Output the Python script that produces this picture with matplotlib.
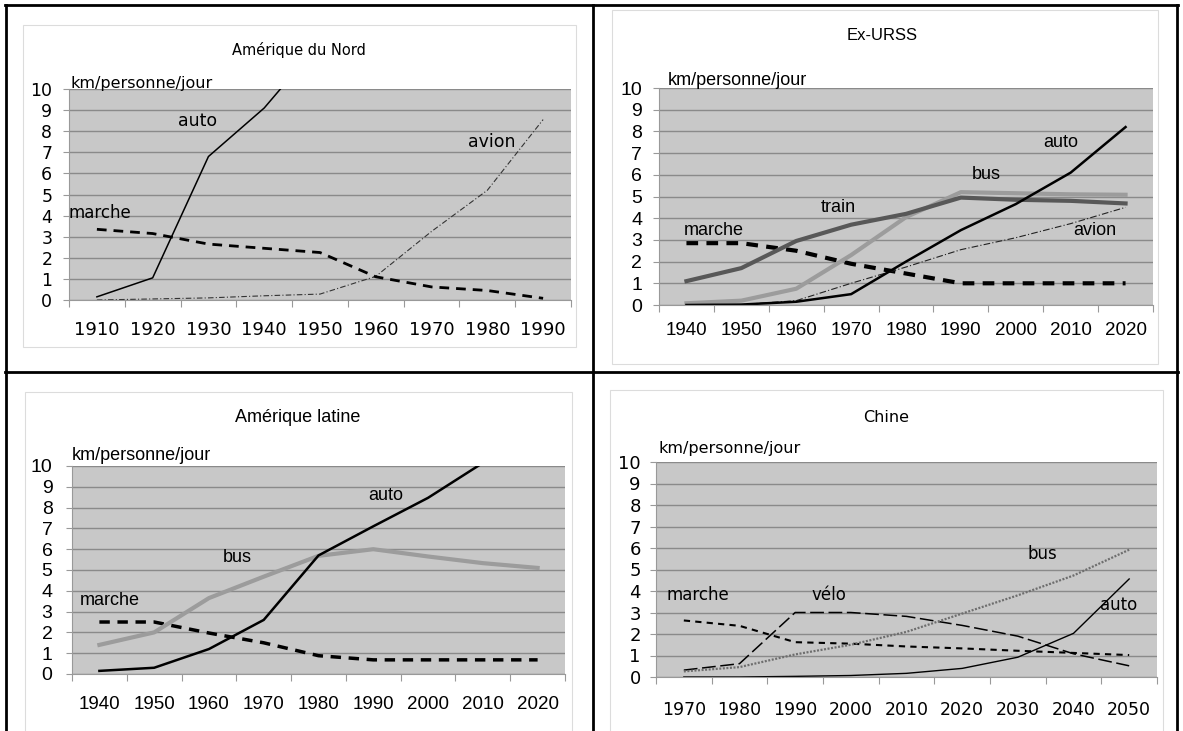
import numpy as np
import matplotlib
matplotlib.use("Agg")
import matplotlib.pyplot as plt
from matplotlib.patches import Rectangle
from matplotlib.lines import Line2D

W, H = 1183, 731

# ---- données (km/personne/jour) ----
annees_nord = ["1910", "1920", "1930", "1940", "1950", "1960", "1970", "1980", "1990"]
nord_auto = [0.15, 1.05, 6.8, 9.1, 12.2, np.nan, np.nan, np.nan, np.nan]
nord_marche = [3.35, 3.15, 2.65, 2.45, 2.25, 1.1, 0.62, 0.45, 0.08]
nord_avion = [0.0, 0.05, 0.1, 0.2, 0.28, 1.12, 3.25, 5.2, 8.55]

annees_urss = ["1940", "1950", "1960", "1970", "1980", "1990", "2000", "2010", "2020"]
urss_train = [1.1, 1.7, 2.95, 3.7, 4.2, 4.95, 4.85, 4.8, 4.68]
urss_bus = [0.08, 0.2, 0.75, 2.3, 4.05, 5.2, 5.15, 5.1, 5.08]
urss_auto = [0.0, 0.02, 0.15, 0.5, 2.0, 3.45, 4.65, 6.1, 8.2]
urss_avion = [0.0, 0.02, 0.2, 1.0, 1.75, 2.55, 3.1, 3.75, 4.5]
urss_marche = [2.85, 2.85, 2.5, 1.9, 1.45, 1.0, 1.0, 1.0, 1.0]

annees_latine = ["1940", "1950", "1960", "1970", "1980", "1990", "2000", "2010", "2020"]
latine_bus = [1.4, 2.0, 3.65, 4.68, 5.68, 6.0, 5.65, 5.33, 5.1]
latine_auto = [0.15, 0.3, 1.2, 2.6, 5.7, 7.1, 8.47, 10.15, np.nan]
latine_marche = [2.5, 2.5, 1.97, 1.5, 0.88, 0.68, 0.68, 0.68, 0.68]

annees_chine = ["1970", "1980", "1990", "2000", "2010", "2020", "2030", "2040", "2050"]
chine_marche = [2.63, 2.38, 1.62, 1.55, 1.42, 1.33, 1.22, 1.12, 1.02]
chine_velo = [0.32, 0.62, 3.0, 3.0, 2.82, 2.4, 1.9, 1.08, 0.52]
chine_bus = [0.26, 0.46, 1.05, 1.5, 2.1, 2.95, 3.8, 4.72, 5.92]
chine_auto = [0.0, 0.0, 0.03, 0.07, 0.17, 0.4, 0.92, 2.03, 4.56]


def fx(x):
    return x / W


def fy(y):
    return 1 - y / H


def rect_axes(fig, gauche, haut, droite, bas):
    return fig.add_axes([fx(gauche), fy(bas), (droite - gauche) / W, (bas - haut) / H])


def panneau(ax, annees, police, taille_x, taille_y, pad_x, pad_y):
    n = len(annees)
    ax.set_facecolor("#c8c8c8")
    ax.set_xlim(-0.5, n - 0.5)
    ax.set_ylim(0, 10)
    ax.set_yticks(range(0, 11))
    ax.set_xticks(range(n))
    ax.set_xticklabels(annees, fontsize=taille_x, family=police)
    ax.set_yticklabels([str(v) for v in range(11)], fontsize=taille_y, family=police)
    ax.set_xticks(np.arange(-0.5, n, 1.0), minor=True)
    ax.tick_params(axis="x", which="major", length=0, pad=pad_x)
    ax.tick_params(axis="x", which="minor", length=5, color="#999999", width=0.8)
    ax.tick_params(axis="y", length=4, color="#999999", width=0.8, pad=pad_y)
    ax.grid(axis="y", color="#8a8a8a", linewidth=1.0)
    ax.set_axisbelow(True)
    for cote in ["top", "right"]:
        ax.spines[cote].set_visible(False)
    for cote in ["left", "bottom"]:
        ax.spines[cote].set_color("#999999")
        ax.spines[cote].set_linewidth(0.8)


fig = plt.figure(figsize=(W / 100, H / 100), dpi=100)

# cadres gris clair des graphiques
for (g, h, d, b) in [(23, 25, 576, 347), (612, 10, 1158, 364), (25, 392, 572, 760), (610, 390, 1163, 760)]:
    fig.patches.append(Rectangle((fx(g), fy(b)), (d - g) / W, (b - h) / H, transform=fig.transFigure,
                                 facecolor="white", edgecolor="#dcdcdc", linewidth=0.8, zorder=-5))

# ---- Amérique du Nord ----
ax1 = rect_axes(fig, 69, 89, 571, 300)
panneau(ax1, annees_nord, "DejaVu Sans", 13, 12.5, 15, 8)
x = np.arange(len(annees_nord))
ax1.plot(x, nord_avion, color="#333333", linewidth=0.8, dashes=(5, 2, 1, 2))
ax1.plot(x, nord_marche, color="black", linewidth=2.0, dashes=(3.5, 2.5))
ax1.plot(x, nord_auto, color="black", linewidth=1.1)
ax1.text(1.45, 8.5, "auto", fontsize=12.5, family="DejaVu Sans", va="center")
ax1.text(-0.5, 4.1, "marche", fontsize=12, family="DejaVu Sans", va="center")
ax1.text(6.65, 7.5, "avion", fontsize=12.5, family="DejaVu Sans", va="center")
fig.text(fx(70), fy(88), "km/personne/jour", fontsize=11.5, family="DejaVu Sans", va="baseline")
fig.text(fx(299), fy(50), "Amérique du Nord", fontsize=10.5, family="DejaVu Sans", ha="center", va="center")

# ---- Ex-URSS ----
ax2 = rect_axes(fig, 659, 88, 1153, 305)
panneau(ax2, annees_urss, "Liberation Sans", 13.5, 14, 12, 8)
x = np.arange(len(annees_urss))
ax2.plot(x, urss_marche, color="black", linewidth=3.0, dashes=(2.8, 2.0))
ax2.plot(x, urss_avion, color="#222222", linewidth=0.8, dashes=(6, 2, 1, 2))
ax2.plot(x, urss_bus, color="#9c9c9c", linewidth=3.0)
ax2.plot(x, urss_train, color="#585858", linewidth=3.0)
ax2.plot(x, urss_auto, color="black", linewidth=1.8)
ax2.text(2.44, 4.5, "train", fontsize=13, family="Liberation Sans", va="center")
ax2.text(-0.05, 3.45, "marche", fontsize=13, family="Liberation Sans", va="center")
ax2.text(5.2, 6.0, "bus", fontsize=13, family="Liberation Sans", va="center")
ax2.text(6.5, 7.5, "auto", fontsize=13, family="Liberation Sans", va="center")
ax2.text(7.05, 3.45, "avion", fontsize=13, family="Liberation Sans", va="center")
fig.text(fx(668), fy(85), "km/personne/jour", fontsize=13, family="Liberation Sans", va="baseline")
fig.text(fx(882), fy(35), "Ex-URSS", fontsize=12, family="Liberation Sans", ha="center", va="center")

# ---- Amérique latine ----
ax3 = rect_axes(fig, 72, 466, 565, 674)
panneau(ax3, annees_latine, "Liberation Sans", 13.5, 14, 16, 10)
x = np.arange(len(annees_latine))
ax3.plot(x, latine_marche, color="black", linewidth=2.5, dashes=(3, 2.2))
ax3.plot(x, latine_bus, color="#9c9c9c", linewidth=3.0)
ax3.plot(x, latine_auto, color="black", linewidth=1.8)
ax3.text(4.9, 8.6, "auto", fontsize=13, family="Liberation Sans", va="center")
ax3.text(2.26, 5.6, "bus", fontsize=13, family="Liberation Sans", va="center")
ax3.text(-0.35, 3.55, "marche", fontsize=13, family="Liberation Sans", va="center")
fig.text(fx(72), fy(460), "km/personne/jour", fontsize=13, family="Liberation Sans", va="baseline")
fig.text(fx(298), fy(417), "Amérique latine", fontsize=13, family="Liberation Sans", ha="center", va="center")

# ---- Chine ----
ax4 = rect_axes(fig, 656, 462, 1157, 677)
panneau(ax4, annees_chine, "DejaVu Sans", 12.5, 13, 17, 7)
x = np.arange(len(annees_chine))
ax4.plot(x, chine_marche, color="black", linewidth=1.5, dashes=(3, 2.5))
ax4.plot(x, chine_velo, color="black", linewidth=1.1, dashes=(9, 3))
ax4.plot(x, chine_bus, color="#6e6e6e", linewidth=1.6, dashes=(0.9, 0.7))
ax4.plot(x, chine_auto, color="black", linewidth=1.0)
ax4.text(-0.32, 3.8, "marche", fontsize=12, family="DejaVu Sans", va="center")
ax4.text(2.3, 3.8, "vélo", fontsize=12, family="DejaVu Sans", va="center")
ax4.text(6.18, 5.7, "bus", fontsize=12, family="DejaVu Sans", va="center")
ax4.text(7.47, 3.35, "auto", fontsize=12, family="DejaVu Sans", va="center")
fig.text(fx(658), fy(453), "km/personne/jour", fontsize=11.5, family="DejaVu Sans", va="baseline")
fig.text(fx(886), fy(417), "Chine", fontsize=11.5, family="DejaVu Sans", ha="center", va="center")

# ---- lignes du tableau ----
for (x0, y0, x1, y1) in [(6, 5, 6, 731), (593, 5, 593, 731), (1177, 5, 1177, 731), (5, 5, 1178, 5), (5, 372, 1178, 372)]:
    fig.add_artist(Line2D([fx(x0), fx(x1)], [fy(y0), fy(y1)], transform=fig.transFigure, color="black",
                          linewidth=2.0, solid_capstyle="projecting"))

fig.savefig("out.png", dpi=100)
